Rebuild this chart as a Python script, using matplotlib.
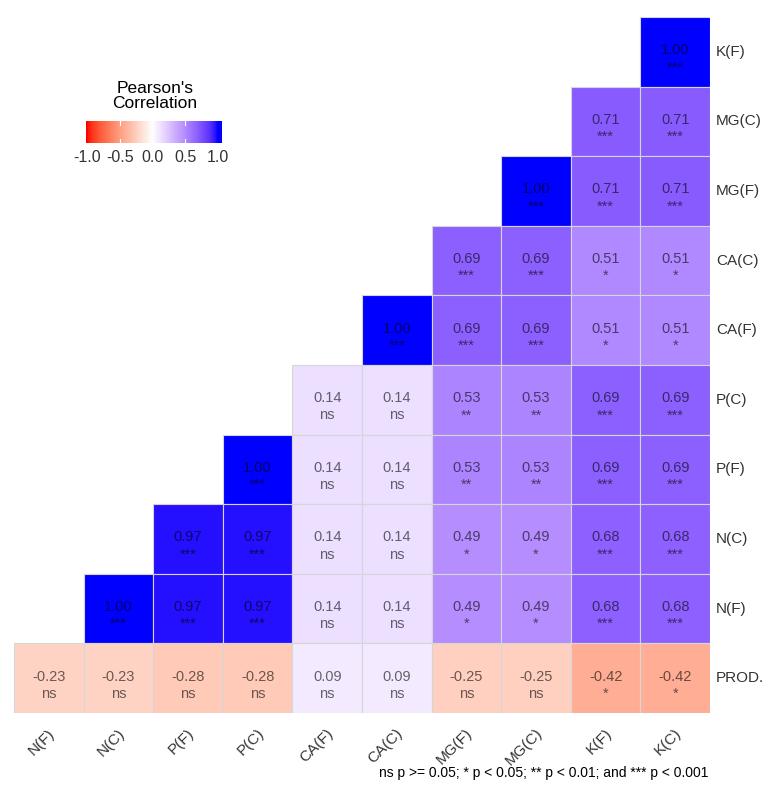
import matplotlib
matplotlib.use("Agg")
import matplotlib.pyplot as plt
import numpy as np
from matplotlib.colors import ListedColormap, Normalize
from matplotlib.patches import Rectangle

plt.rcParams["font.family"] = ["Liberation Sans", "DejaVu Sans"]

cols = ["N(F)", "N(C)", "P(F)", "P(C)", "CA(F)", "CA(C)", "MG(F)", "MG(C)", "K(F)", "K(C)"]
rows = ["K(F)", "MG(C)", "MG(F)", "CA(C)", "CA(F)", "P(C)", "P(F)", "N(C)", "N(F)", "PROD."]

nan = np.nan
r_vals = [
    [nan, nan, nan, nan, nan, nan, nan, nan, nan, 1.00],
    [nan, nan, nan, nan, nan, nan, nan, nan, 0.71, 0.71],
    [nan, nan, nan, nan, nan, nan, nan, 1.00, 0.71, 0.71],
    [nan, nan, nan, nan, nan, nan, 0.69, 0.69, 0.51, 0.51],
    [nan, nan, nan, nan, nan, 1.00, 0.69, 0.69, 0.51, 0.51],
    [nan, nan, nan, nan, 0.14, 0.14, 0.53, 0.53, 0.69, 0.69],
    [nan, nan, nan, 1.00, 0.14, 0.14, 0.53, 0.53, 0.69, 0.69],
    [nan, nan, 0.97, 0.97, 0.14, 0.14, 0.49, 0.49, 0.68, 0.68],
    [nan, 1.00, 0.97, 0.97, 0.14, 0.14, 0.49, 0.49, 0.68, 0.68],
    [-0.23, -0.23, -0.28, -0.28, 0.09, 0.09, -0.25, -0.25, -0.42, -0.42],
]
sig = [
    ["", "", "", "", "", "", "", "", "", "***"],
    ["", "", "", "", "", "", "", "", "***", "***"],
    ["", "", "", "", "", "", "", "***", "***", "***"],
    ["", "", "", "", "", "", "***", "***", "*", "*"],
    ["", "", "", "", "", "***", "***", "***", "*", "*"],
    ["", "", "", "", "ns", "ns", "**", "**", "***", "***"],
    ["", "", "", "***", "ns", "ns", "**", "**", "***", "***"],
    ["", "", "***", "***", "ns", "ns", "*", "*", "***", "***"],
    ["", "***", "***", "***", "ns", "ns", "*", "*", "***", "***"],
    ["ns", "ns", "ns", "ns", "ns", "ns", "ns", "ns", "*", "*"],
]
legend_ticks = [-1.0, -0.5, 0.0, 0.5, 1.0]


# red - white - blue gradient interpolated in CIE Lab
def srgb_to_lab(rgb):
    c = np.asarray(rgb, float)
    lin = np.where(c <= 0.04045, c / 12.92, ((c + 0.055) / 1.055) ** 2.4)
    m = np.array([[0.4124, 0.3576, 0.1805],
                  [0.2126, 0.7152, 0.0722],
                  [0.0193, 0.1192, 0.9505]])
    xyz = m @ lin / np.array([0.95047, 1.0, 1.08883])
    f = np.where(xyz > 0.008856, np.cbrt(xyz), 7.787 * xyz + 16 / 116)
    return np.array([116 * f[1] - 16, 500 * (f[0] - f[1]), 200 * (f[1] - f[2])])


def lab_to_srgb(lab):
    L, a, b = lab
    fy = (L + 16) / 116
    f = np.array([fy + a / 500, fy, fy - b / 200])
    xyz = np.where(f ** 3 > 0.008856, f ** 3, (f - 16 / 116) / 7.787)
    xyz = xyz * np.array([0.95047, 1.0, 1.08883])
    m = np.array([[3.2406, -1.5372, -0.4986],
                  [-0.9689, 1.8758, 0.0415],
                  [0.0557, -0.2040, 1.0570]])
    lin = np.clip(m @ xyz, 0, 1)
    c = np.where(lin <= 0.0031308, 12.92 * lin, 1.055 * lin ** (1 / 2.4) - 0.055)
    return np.clip(c, 0, 1)


white = srgb_to_lab([1, 1, 1])
red = srgb_to_lab([1, 0, 0])
blue = srgb_to_lab([0, 0, 1])
grad = []
for v in np.linspace(-1, 1, 256):
    end = red if v < 0 else blue
    grad.append(lab_to_srgb(white + abs(v) * (end - white)))
cmap = ListedColormap(grad)
norm = Normalize(-1, 1)

W, H = 764, 787
CELL = 69.6
fig = plt.figure(figsize=(W / 100, H / 100), dpi=100)
ax = fig.add_axes([14 / W, 1 - 713 / H, 696 / W, 696 / H])
ax.set_xlim(0, len(cols))
ax.set_ylim(len(rows), 0)
ax.set_axis_off()

for i in range(len(rows)):
    for j in range(len(cols)):
        v = r_vals[i][j]
        if np.isnan(v):
            continue
        ax.add_patch(Rectangle((j, i), 1, 1, facecolor=cmap(norm(v)),
                               edgecolor="#d6d6d6", linewidth=0.8))
        ax.text(j + 0.5, i + 0.5 + 7 / CELL, f"{v:.2f}\n{sig[i][j]}", ha="center",
                va="center", fontsize=10.5, color="black", alpha=0.58, linespacing=1.3)

for j, name in enumerate(cols):
    ax.text(j + 0.5 + 9 / CELL, -13 / 696, name, transform=ax.get_xaxis_transform(),
            rotation=45, ha="right", va="top", fontsize=11, color="#333333")
for i, name in enumerate(rows):
    ax.text(1 + 6 / 696, i + 0.5, name, transform=ax.get_yaxis_transform(),
            ha="left", va="center", fontsize=11, color="#333333")

fig.text(708 / W, 1 - 773 / H,
         "ns p >= 0.05; * p < 0.05; ** p < 0.01; and *** p < 0.001",
         ha="right", va="center", fontsize=10, color="black")

# legend colour bar
cax = fig.add_axes([86 / W, 1 - 143 / H, 136 / W, 22 / H])
lo, hi = -1 - 1 / 65.5, 1 + 4 / 65.5
cax.imshow(np.linspace(lo, hi, 256)[None, :], cmap=cmap, norm=norm, aspect="auto",
           extent=(lo, hi, 0, 1))
for t in legend_ticks[1:-1]:
    cax.plot([t, t], [0, 0.2], color="white", linewidth=0.8)
    cax.plot([t, t], [0.8, 1], color="white", linewidth=0.8)
cax.set_xlim(lo, hi)
cax.set_ylim(0, 1)
cax.set_axis_off()
for t in legend_ticks:
    cax.text(t, -0.3, f"{t:.1f}", ha="center", va="top", fontsize=11.5, color="#333333")
fig.text(155 / W, 1 - 96 / H, "Pearson's\nCorrelation", ha="center", va="center",
         fontsize=12.5, color="black", linespacing=1.0)

fig.savefig("out.png", dpi=100)
